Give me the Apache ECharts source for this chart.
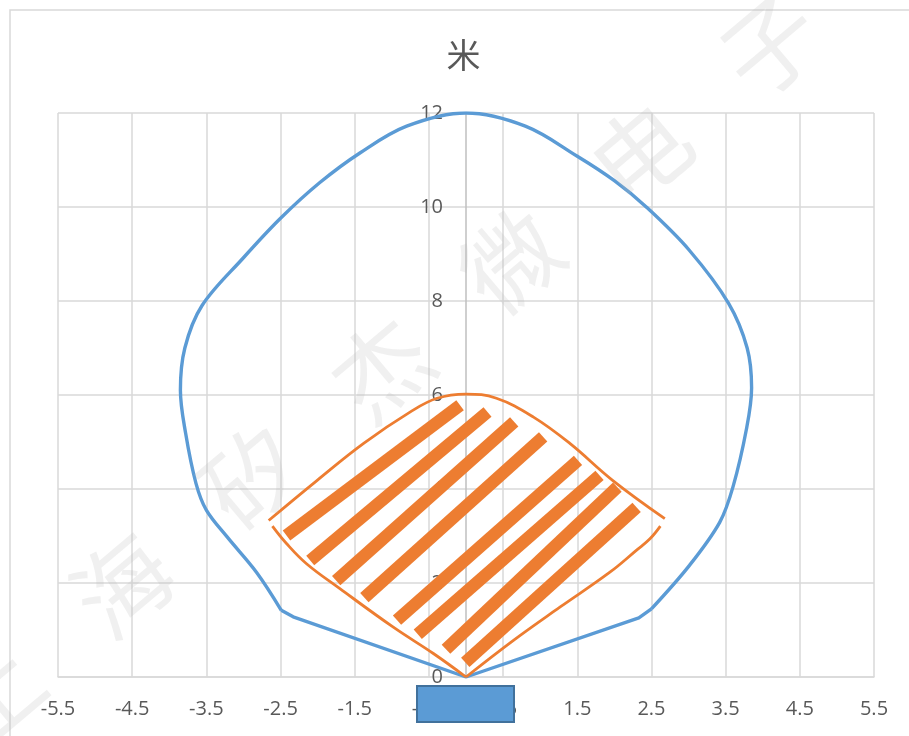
<!DOCTYPE html>
<html>
<head>
<meta charset="utf-8">
<script src="https://cdn.jsdelivr.net/npm/echarts@6/dist/echarts.min.js"></script>
<style>html,body{margin:0;padding:0;background:#fff;}#c{width:909px;height:736px;}</style>
</head>
<body>
<div id="c"></div>
<script>
// ---- data (metres) ----
const titleText = '米';
const xTickMin = -5.5, xTickMax = 5.5, xTickStep = 1;
const yTickMin = 0, yTickMax = 12, yTickStep = 2;

// blue detection range: smooth outer arc (left kink -> top -> right kink)
const blueArcX = [-2.49, -2.82, -3.22, -3.50, -3.64, -3.78, -3.85, -3.79, -3.56, -3.00, -2.50, -1.97, -1.43, -0.80, 0.00, 0.80, 1.50, 2.00, 2.43, 3.01, 3.54, 3.79, 3.85, 3.78, 3.60, 3.42, 3.01, 2.50];
const blueArcY = [1.42, 2.22, 2.98, 3.55, 4.12, 5.19, 6.10, 7.00, 7.90, 8.92, 9.76, 10.52, 11.15, 11.72, 12.00, 11.72, 11.08, 10.56, 10.00, 9.08, 7.95, 7.00, 6.15, 5.27, 4.05, 3.29, 2.37, 1.45];
// blue bottom straight part
const blueBaseX = [-2.49, -2.33, 0.00, 2.33, 2.50];
const blueBaseY = [1.42, 1.28, 0.00, 1.26, 1.45];

// orange zone outline
const orangeTopX = [-2.66, -2.01, -1.38, -0.75, -0.39, 0.00, 0.41, 0.91, 1.40, 1.98, 2.68];
const orangeTopY = [3.33, 4.18, 4.97, 5.64, 5.93, 6.02, 5.93, 5.53, 4.97, 4.18, 3.37];
const orangeLeftX = [-2.61, -2.42, -2.15, -1.70, -0.98, -0.44, 0.00];
const orangeLeftY = [3.21, 2.84, 2.41, 1.88, 1.06, 0.50, 0.00];
const orangeRightX = [0.00, 0.64, 1.27, 1.94, 2.30, 2.48, 2.62];
const orangeRightY = [0.00, 0.78, 1.49, 2.23, 2.70, 2.94, 3.21];

// orange hatch strokes (start -> end)
const hatchStartX = [-2.42, -2.10, -1.75, -1.37, -0.93, -0.65, -0.27, -0.01];
const hatchStartY = [3.01, 2.48, 2.05, 1.69, 1.21, 0.91, 0.59, 0.31];
const hatchEndX = [-0.08, 0.29, 0.65, 1.04, 1.51, 1.80, 2.04, 2.30];
const hatchEndY = [5.78, 5.64, 5.43, 5.11, 4.61, 4.29, 4.04, 3.61];

const watermarkChars = ['上', '海', '矽', '杰', '微', '电', '子'];

// ---- build ----
const zip = (xs, ys) => xs.map((x, i) => [x, ys[i]]);
const BLUE = '#5b9bd5', ORANGE = '#ed7d31';
const series = [
  { type: 'line', data: zip(blueArcX, blueArcY), smooth: 0.35, showSymbol: false, symbol: 'none',
    lineStyle: { color: BLUE, width: 3.4 }, z: 3 },
  { type: 'line', data: zip(blueBaseX, blueBaseY), smooth: false, showSymbol: false, symbol: 'none',
    lineStyle: { color: BLUE, width: 3.4, join: 'round' }, z: 3 },
  { type: 'line', data: zip(orangeTopX, orangeTopY), smooth: 0.4, showSymbol: false, symbol: 'none',
    lineStyle: { color: ORANGE, width: 2.8 }, z: 4 },
  { type: 'line', data: zip(orangeLeftX, orangeLeftY), smooth: 0.4, showSymbol: false, symbol: 'none',
    lineStyle: { color: ORANGE, width: 2.8 }, z: 4 },
  { type: 'line', data: zip(orangeRightX, orangeRightY), smooth: 0.4, showSymbol: false, symbol: 'none',
    lineStyle: { color: ORANGE, width: 2.8 }, z: 4 }
];
hatchStartX.forEach((sx, i) => {
  series.push({ type: 'line', data: [[sx, hatchStartY[i]], [hatchEndX[i], hatchEndY[i]]],
    showSymbol: false, symbol: 'none', lineStyle: { color: ORANGE, width: 12.5, cap: 'butt' }, z: 5 });
});

const wmGraphics = watermarkChars.map((ch, i) => ({
  type: 'text', x: -7 + i * 129.5, y: 693 - i * 108, rotation: 0.70, z: 100, silent: true,
  style: { text: ch, fontSize: 96, fontFamily: 'Noto Sans CJK SC', fill: 'rgba(185,185,185,0.22)',
    align: 'center', verticalAlign: 'middle' }
}));

const labelFont = { color: '#595959', fontSize: 20, fontFamily: 'Open Sans' };
const gridLeft = 58, gridRight = 35, chartWidth = 909;
const gridWidth = chartWidth - gridLeft - gridRight;
// y axis sits at x = 0 (like the source chart)
const yAxisShift = -gridWidth * (0 - xTickMin) / (xTickMax - xTickMin);

const option = {
  animation: false,
  backgroundColor: '#ffffff',
  grid: { left: gridLeft, right: gridRight, top: 113, bottom: 59, containLabel: false },
  xAxis: {
    type: 'value', min: xTickMin, max: xTickMax, interval: xTickStep,
    axisLine: { show: true, onZero: false, lineStyle: { color: '#d9d9d9', width: 1.5 } },
    axisTick: { show: false },
    splitLine: { show: true, lineStyle: { color: '#d9d9d9', width: 1.5 } },
    axisLabel: Object.assign({ margin: 22, formatter: v => v.toFixed(1), showMinLabel: true, showMaxLabel: true }, labelFont)
  },
  yAxis: {
    type: 'value', min: yTickMin, max: yTickMax, interval: yTickStep, offset: yAxisShift,
    axisLine: { show: true, onZero: false, lineStyle: { color: '#bfbfbf', width: 1.5 } },
    axisTick: { show: false },
    splitLine: { show: true, lineStyle: { color: '#d9d9d9', width: 1.5 } },
    axisLabel: Object.assign({ margin: 23 }, labelFont)
  },
  series: series,
  graphic: [
    { type: 'rect', shape: { x: 10, y: 10, width: 920, height: 760 }, silent: true, z: -10,
      style: { fill: null, stroke: '#d9d9d9', lineWidth: 1.5 } },
    { type: 'text', x: 463.5, y: 55, silent: true,
      style: { text: titleText, fontSize: 34, fontFamily: 'Noto Sans CJK SC', fill: '#595959',
        align: 'center', verticalAlign: 'middle' } },
    { type: 'rect', shape: { x: 417, y: 686, width: 97, height: 36 }, z: 50,
      style: { fill: BLUE, stroke: '#41719c', lineWidth: 2 } }
  ].concat(wmGraphics)
};

const chart = echarts.init(document.getElementById('c'), null, { renderer: 'canvas' });
chart.setOption(option);
</script>
</body>
</html>
